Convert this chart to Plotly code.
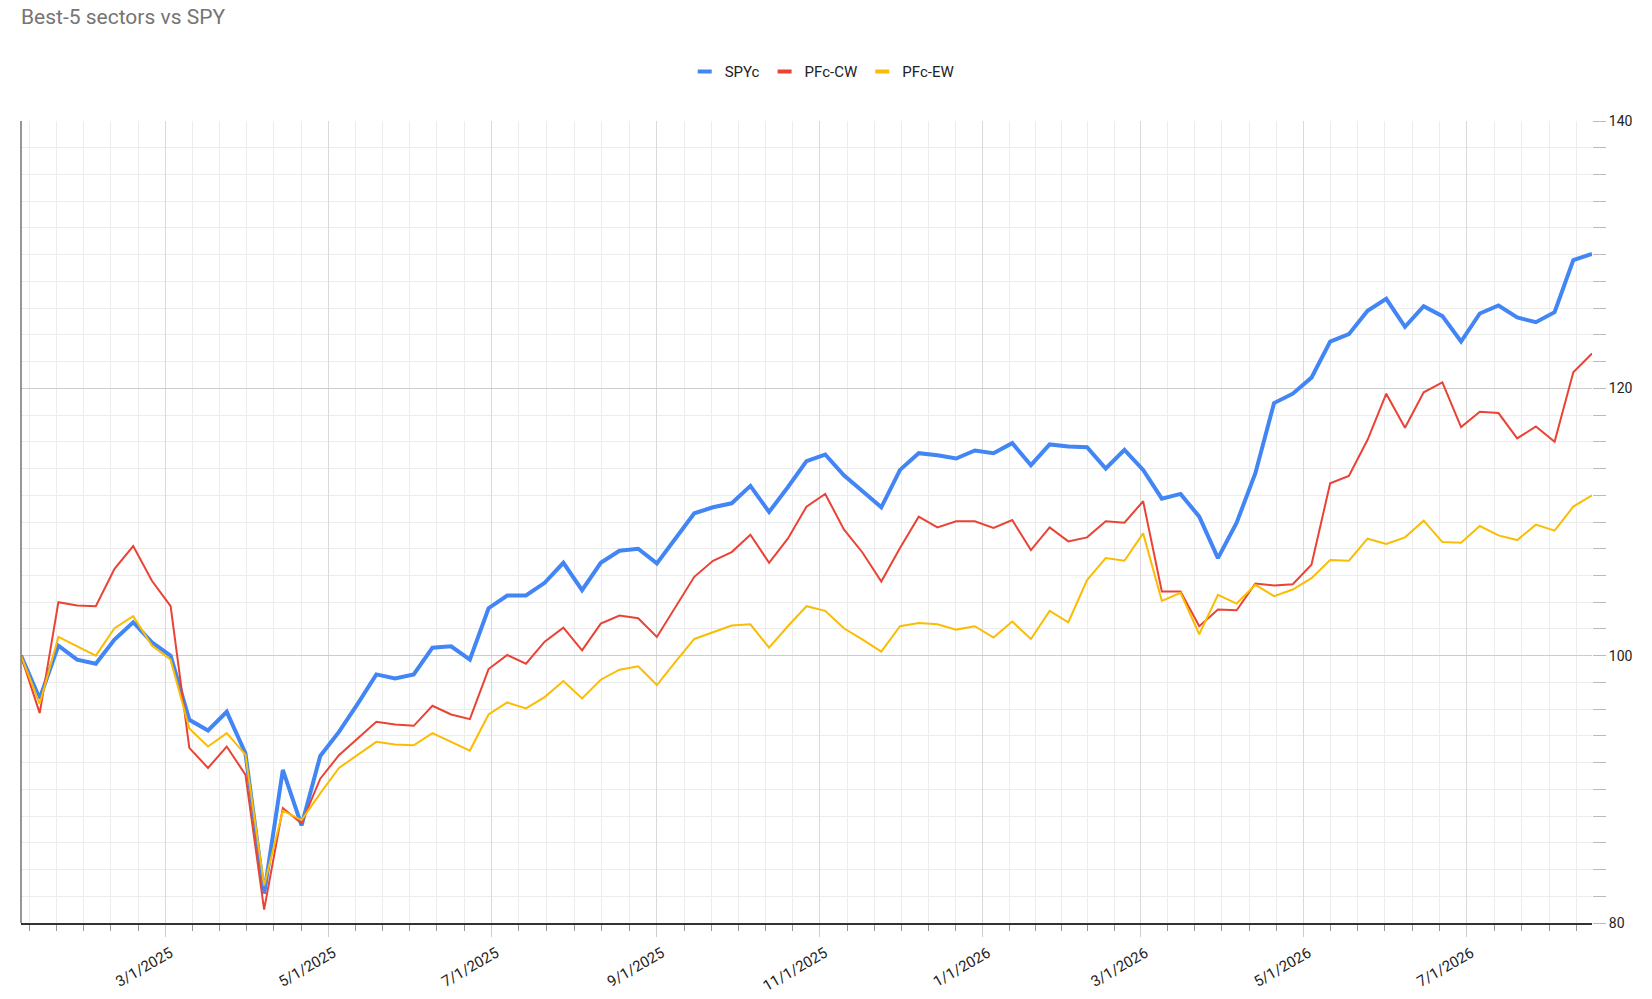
import pandas as pd
import plotly.graph_objects as go

# --- Data (weekly) ---

weeks = pd.date_range("2025-01-06", periods=85, freq="7D")

spyc = [
    100.0, 96.8, 100.75, 99.7, 99.4, 101.2, 102.5, 101.0, 100.0, 95.2,
    94.4, 95.8, 92.7, 82.2, 91.45, 87.3, 92.5, 94.3, 96.4, 98.6,
    98.3, 98.6, 100.6, 100.7, 99.7, 103.55, 104.5, 104.5, 105.45, 106.95,
    104.9, 106.95, 107.85, 108.0, 106.9, 108.8, 110.65, 111.1, 111.4, 112.7,
    110.75, 112.6, 114.55, 115.05, 113.5, 112.3, 111.1, 113.9, 115.15, 115.0,
    114.75, 115.35, 115.15, 115.9, 114.25, 115.8, 115.65, 115.6, 114.0, 115.4,
    113.9, 111.75, 112.1, 110.4, 107.3, 109.95, 113.65, 118.9, 119.6, 120.8,
    123.5, 124.05, 125.8, 126.7, 124.6, 126.15, 125.4, 123.5, 125.6, 126.2,
    125.3, 124.95, 125.7, 129.6, 130.05,
]

pfc_cw = [
    100.0, 95.7, 104.0, 103.75, 103.7, 106.5, 108.2, 105.6, 103.7, 93.1,
    91.6, 93.2, 91.1, 81.0, 88.6, 87.45, 90.8, 92.55, 93.8, 95.05,
    94.85, 94.75, 96.25, 95.6, 95.25, 99.0, 100.05, 99.4, 101.05, 102.1,
    100.4, 102.4, 103.0, 102.8, 101.4, 103.7, 105.9, 107.1, 107.75, 109.05,
    106.95, 108.75, 111.15, 112.1, 109.45, 107.7, 105.55, 108.05, 110.4, 109.6,
    110.05, 110.05, 109.55, 110.15, 107.9, 109.6, 108.55, 108.85, 110.05, 109.95,
    111.55, 104.8, 104.8, 102.2, 103.45, 103.4, 105.4, 105.25, 105.35, 106.8,
    112.9, 113.45, 116.15, 119.6, 117.05, 119.7, 120.45, 117.1, 118.25, 118.15,
    116.25, 117.15, 116.0, 121.2, 122.6,
]

pfc_ew = [
    100.0, 96.4, 101.4, 100.7, 100.0, 102.05, 102.95, 100.75, 99.7, 94.55,
    93.2, 94.2, 92.6, 82.8, 88.4, 87.7, 89.7, 91.6, 92.55, 93.55,
    93.35, 93.3, 94.2, 93.55, 92.9, 95.6, 96.5, 96.05, 96.9, 98.1,
    96.8, 98.2, 98.95, 99.2, 97.8, 99.55, 101.25, 101.75, 102.25, 102.35,
    100.6, 102.2, 103.7, 103.35, 102.05, 101.2, 100.3, 102.2, 102.45, 102.35,
    101.95, 102.2, 101.35, 102.55, 101.25, 103.35, 102.5, 105.65, 107.3, 107.1,
    109.15, 104.1, 104.7, 101.6, 104.55, 103.9, 105.3, 104.45, 104.95, 105.8,
    107.15, 107.1, 108.75, 108.35, 108.85, 110.1, 108.5, 108.45, 109.7, 109.0,
    108.65, 109.8, 109.35, 111.15, 112.0,
]

series_names = ["SPYc", "PFc-CW", "PFc-EW"]
series_colors = ["#4285F4", "#EA4335", "#FBBC04"]
series_widths = [4, 2, 2]

tick_dates = ["2025-03-01", "2025-05-01", "2025-07-01", "2025-09-01", "2025-11-01",
              "2026-01-01", "2026-03-01", "2026-05-01", "2026-07-01"]
tick_labels = ["3/1/2025", "5/1/2025", "7/1/2025", "9/1/2025", "11/1/2025",
               "1/1/2026", "3/1/2026", "5/1/2026", "7/1/2026"]

y_ticks = [80, 100, 120, 140]

# --- Minor gridlines: 6 equal parts between the 2-month majors ---

majors = pd.to_datetime(tick_dates)
minor_x = []
step = (majors[1] - majors[0]) / 6
minor_x += [majors[0] - k * step for k in range(5, 0, -1)]
for a, b in zip(majors[:-1], majors[1:]):
    minor_x += [a + k * (b - a) / 6 for k in range(1, 6)]
step = (majors[-1] + pd.DateOffset(months=2) - majors[-1]) / 6
minor_x += [majors[-1] + k * step for k in range(1, 6)]

# --- Figure ---

fig = go.Figure()

for name, values, color, width in zip(series_names, [spyc, pfc_cw, pfc_ew],
                                      series_colors, series_widths):
    fig.add_trace(go.Scatter(
        x=weeks, y=values, mode="lines", name=name,
        line=dict(color=color, width=width),
        showlegend=False,
    ))

# short dash legend symbols like the Sheets chart
for name, color in zip(series_names, series_colors):
    fig.add_trace(go.Scatter(
        x=[None], y=[None], mode="markers", name=name,
        marker=dict(symbol="line-ew-open", size=10, color=color,
                    line=dict(width=4, color=color)),
    ))

fig.update_layout(
    width=1652,
    height=999,
    paper_bgcolor="white",
    plot_bgcolor="white",
    font=dict(family="Roboto", size=14, color="#222222"),
    margin=dict(l=21, r=60, t=121, b=76),
    title=dict(
        text="Best-5 sectors vs SPY",
        x=21 / 1652, xanchor="left", xref="container",
        y=1 - 17 / 999, yanchor="middle", yref="container",
        font=dict(family="Roboto", size=21, color="#757575"),
    ),
    legend=dict(
        orientation="h",
        x=0.51, xanchor="center",
        y=1.0615, yanchor="middle",
        font=dict(family="Roboto", size=15, color="#222222"),
        itemwidth=30,
        bgcolor="rgba(0,0,0,0)",
    ),
    showlegend=True,
    hovermode=False,
)

fig.update_xaxes(
    type="date",
    range=[weeks[0], weeks[-1]],
    automargin=False,
    tickmode="array",
    tickvals=tick_dates,
    ticktext=tick_labels,
    tickangle=-30,
    ticklabelshift=5,
    ticklabelstandoff=2,
    ticks="outside",
    ticklen=12,
    tickcolor="#cccccc",
    showgrid=True,
    gridcolor="#dadada",
    showline=True,
    linecolor="#333333",
    linewidth=1.5,
    zeroline=False,
    tickfont=dict(size=15, color="#222222"),
    minor=dict(
        tickmode="array",
        tickvals=minor_x,
        showgrid=True,
        gridcolor="#ececec",
        ticks="outside",
        ticklen=6,
        tickcolor="#999999",
    ),
)

fig.update_yaxes(
    side="right",
    range=[80, 140],
    automargin=False,
    tickmode="array",
    tickvals=y_ticks,
    ticks="outside",
    ticklen=13,
    tickcolor="#bbbbbb",
    showgrid=True,
    gridcolor="#cccccc",
    showline=False,
    zeroline=False,
    tickfont=dict(size=14, color="#222222"),
    minor=dict(
        dtick=2,
        showgrid=True,
        gridcolor="#ececec",
        ticks="outside",
        ticklen=13,
        tickcolor="#bbbbbb",
    ),
)

# left border of the plot area
fig.add_shape(type="line", xref="paper", yref="paper", x0=0, x1=0, y0=0, y1=1,
              line=dict(color="#757575", width=1.5))

# drop the default 8px body margin so the chart sits at the page corner
fig.write_html("out.html", config={"displayModeBar": False},
               post_script="document.body.style.margin = '0';")
